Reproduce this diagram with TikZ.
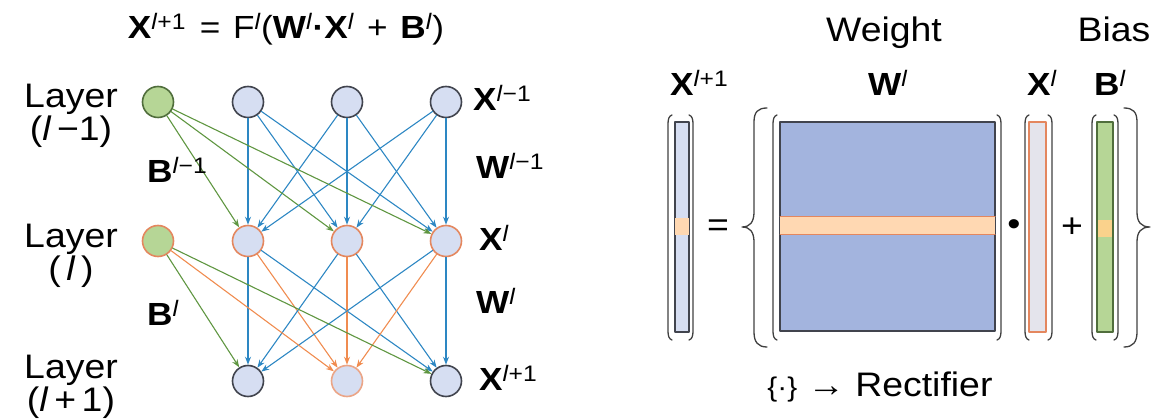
\documentclass[tikz,border=0pt]{standalone}
\usepackage{fontspec}
\setmainfont{Liberation Sans}[FakeStretch=1.1]
\usetikzlibrary{arrows.meta}

\definecolor{edgeblue}{RGB}{45,135,195}
\definecolor{edgegreen}{RGB}{95,150,65}
\definecolor{edgeorange}{RGB}{240,140,80}
\definecolor{nodeblue}{RGB}{214,222,242}
\definecolor{nodegreen}{RGB}{182,214,150}
\definecolor{rimgray}{RGB}{65,68,78}
\definecolor{rimgreen}{RGB}{80,110,60}
\definecolor{rimorange}{RGB}{228,135,95}
\definecolor{matblue}{RGB}{163,180,222}
\definecolor{bandorange}{RGB}{255,216,178}
\definecolor{bandyellow}{RGB}{250,210,140}
\definecolor{xgray}{RGB}{228,228,236}

\newcommand{\lsup}[1]{\textsuperscript{\textit{l}#1}}
\newcommand{\parpair}[4]{% left x, right x, top y, bottom y
  \draw[brk] (#1+4,#3) .. controls (#1+1,#3+1) and (#1,#3+4) .. (#1,#3+9) -- (#1,#4-9) .. controls (#1,#4-4) and (#1+1,#4-1) .. (#1+4,#4);
  \draw[brk] (#2-4,#3) .. controls (#2-1,#3+1) and (#2,#3+4) .. (#2,#3+9) -- (#2,#4-9) .. controls (#2,#4-4) and (#2-1,#4-1) .. (#2-4,#4);
}

\begin{document}
\begin{tikzpicture}[x=1pt, y=-1pt, line join=round, line cap=round, >={Stealth[length=8pt,width=6pt]}]
	\tikzset{
		unit/.style={circle, minimum size=31pt, inner sep=0pt, line width=1.6pt, draw=rimgray, fill=nodeblue},
		biasunit/.style={unit, draw=rimgreen, fill=nodegreen},
		wblue/.style={->, draw=edgeblue, line width=1.1pt},
		wgreen/.style={->, draw=edgegreen, line width=1.1pt},
		worange/.style={->, draw=edgeorange, line width=1.1pt},
		lbl/.style={inner sep=0pt, font=\fontsize{32}{32}\selectfont},
		txt/.style={inner sep=0pt, font=\fontsize{34}{27}\selectfont},
		layerlbl/.style={txt, align=center, anchor=north},
		brk/.style={draw=black!75, line width=1.3pt},
	}
	\useasboundingbox (0,0) rectangle (1165,419);
	%Rows and bias column
	\def\ya{102}
	\def\yb{241}
	\def\yc{381}
	\def\xo{158}
	
	%Units of the three layers
	\node[biasunit] (a0) at (\xo,\ya) {};
	\node[biasunit, draw=rimorange] (b0) at (\xo,\yb) {};
	\foreach \i/\x in {1/248,2/347,3/446}{
		\node[unit] (a\i) at (\x,\ya) {};
		\node[unit, draw=rimorange] (b\i) at (\x,\yb) {};
	}
	\node[unit] (c1) at (248,\yc) {};
	\node[unit, draw=rimorange!75] (c2) at (347,\yc) {};
	\node[unit] (c3) at (446,\yc) {};
	
	%Connections
	\foreach \s in {1,2,3}{
		\foreach \t in {1,2,3} \draw[wblue] (a\s) -- (b\t);
		\draw[wgreen] (a0) -- (b\s);
	}
	\foreach \s in {1,2,3}{
		\draw[wblue] (b\s) -- (c1);
		\draw[wblue] (b\s) -- (c3);
		\draw[worange] (b\s) -- (c2);
	}
	\draw[wgreen] (b0) -- (c1);
	\draw[wgreen] (b0) -- (c3);
	\draw[worange] (b0) -- (c2);
	
	%Labels
	\node[lbl, anchor=base] (eq) at (286,39)
		{\textbf{X}\lsup{+1}\hspace{4pt} = \hspace{3pt}F\lsup{}(\textbf{W}\lsup{}\textbf{·}\textbf{X}\lsup{}\hspace{3pt} + \hspace{3pt}\textbf{B}\lsup{})};
	\node[layerlbl] (la) at (71,84) {Layer\\(\textit{l}\,−1)};
	\node[layerlbl] (lb) at (71,224) {Layer\\(\,\textit{l}\,)};
	\node[layerlbl] (lc) at (71,355) {Layer\\(\textit{l}\,+\,1)};
	\node[lbl, anchor=base west] (xa) at (473,111) {\textbf{X}\lsup{−1}};
	\node[lbl, anchor=base west] (wa) at (476,179) {\textbf{W}\lsup{−1}};
	\node[lbl, anchor=base west] (ba) at (147,183) {\textbf{B}\lsup{−1}};
	\node[lbl, anchor=base west] (xb) at (479,251) {\textbf{X}\lsup{}};
	\node[lbl, anchor=base west] (wb) at (476,314) {\textbf{W}\lsup{}};
	\node[lbl, anchor=base west] (bb) at (147,326) {\textbf{B}\lsup{}};
	\node[lbl, anchor=base west] (xc) at (479,391) {\textbf{X}\lsup{+1}};
	
	%Matrix form
	\node[txt, anchor=base] (wt) at (884,42) {Weight};
	\node[txt, anchor=base] (bs) at (1114,42) {Bias};
	\node[lbl, anchor=base west] (mx1) at (670,96) {\textbf{X}\lsup{+1}};
	\node[lbl, anchor=base] (mw) at (888,96) {\textbf{W}\lsup{}};
	\node[lbl, anchor=base west] (mx) at (1027,96) {\textbf{X}\lsup{}};
	\node[lbl, anchor=base west] (mb) at (1094,96) {\textbf{B}\lsup{}};
	
	\draw[fill=nodeblue, draw=rimgray, line width=1.4pt] (675,122) rectangle (689,332);
	\fill[bandorange] (675,218) rectangle (689,235);
	\parpair{668}{693}{115}{340}
	
	\draw[fill=matblue, draw=rimgray, line width=1.6pt] (780,122) rectangle (995,331);
	\fill[bandorange] (780,217) rectangle (995,235);
	\draw[rimorange, line width=1pt] (780,217) -- (995,217) (780,235) -- (995,235);
	\parpair{773}{1001}{115}{340}
	
	\draw[fill=xgray, draw=rimorange, line width=1.4pt] (1029,122) rectangle (1046,332);
	\parpair{1025}{1052}{115}{340}
	
	\draw[fill=nodegreen, draw=rimgreen, line width=1.4pt] (1097,122) rectangle (1113,332);
	\fill[bandyellow] (1098,220) rectangle (1112,237);
	\parpair{1092}{1118}{115}{340}
	
	\draw[brk] (767,108) .. controls (758,108) and (754,112) .. (754,122) -- (754,212) .. controls (754,222) and (750,227) .. (742,227) .. controls (750,227) and (754,232) .. (754,242) -- (754,332) .. controls (754,342) and (758,347) .. (767,347);
	\draw[brk] (1124,108) .. controls (1133,108) and (1137,112) .. (1137,122) -- (1137,212) .. controls (1137,222) and (1141,227) .. (1150,227) .. controls (1141,227) and (1137,232) .. (1137,242) -- (1137,332) .. controls (1137,342) and (1133,347) .. (1124,347);
	
	\node[txt] (eqs) at (718,228) {=};
	\node[txt] (dot) at (1014,228) {•};
	\node[txt] (pls) at (1072,228) {+};
	\node[txt, anchor=base] (rect) at (880,397) {{\fontsize{27}{27}\selectfont\{·\}} → Rectifier};
\end{tikzpicture}
\end{document}
